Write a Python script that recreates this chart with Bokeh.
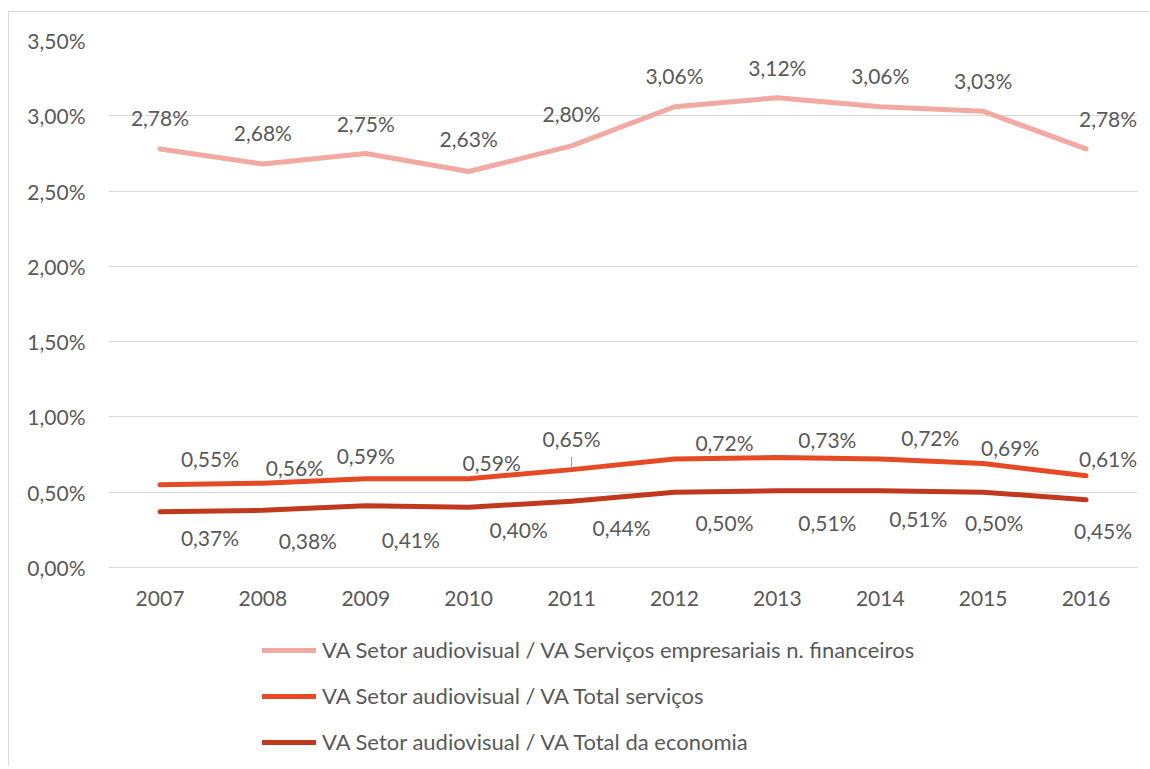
from bokeh.plotting import figure
from bokeh.models import ColumnDataSource, Range1d, FactorRange, FixedTicker, Legend, LegendItem
from bokeh.core.properties import value
from bokeh.embed import file_html
from bokeh.resources import INLINE

# ---- data ----
years = ["2007", "2008", "2009", "2010", "2011", "2012", "2013", "2014", "2015", "2016"]
serv_empresariais = [2.78, 2.68, 2.75, 2.63, 2.80, 3.06, 3.12, 3.06, 3.03, 2.78]
total_servicos = [0.55, 0.56, 0.59, 0.59, 0.65, 0.72, 0.73, 0.72, 0.69, 0.61]
total_economia = [0.37, 0.38, 0.41, 0.40, 0.44, 0.50, 0.51, 0.51, 0.50, 0.45]
series_names = [
    "VA Setor audiovisual / VA Serviços empresariais n. financeiros",
    "VA Setor audiovisual / VA Total serviços",
    "VA Setor audiovisual / VA Total da economia",
]
y_ticks = [0.0, 0.5, 1.0, 1.5, 2.0, 2.5, 3.0, 3.5]
y_tick_labels = ["0,00%", "0,50%", "1,00%", "1,50%", "2,00%", "2,50%", "3,00%", "3,50%"]
y_min, y_max = 0.0, 3.5

# ---- styles ----
colors = ["#F1A9A2", "#E64A24", "#C0391E"]
FONT = "Lato"
TXT = "#595959"
FS = "21px"
LFS = "22px"
# data-label offsets in screen pixels (dx, dy; negative dy = above)
off_dx = [
    [0, 0, 0, 0, 0, 0, 0, 0, 0, 22],
    [50, 32, 0, 23, 0, 50, 50, 50, 27, 22],
    [50, 45, 45, 50, 50, 50, 50, 38, 11, 17],
]
off_dy = [
    [-31, -31, -30, -33, -32, -31, -30, -31, -31, -30],
    [-26, -16, -23, -16, -31, -17, -18, -22, -16, -17],
    [26, 30, 34, 22, 26, 30, 32, 28, 30, 31],
]

# frame geometry: value axis spans 527px; frame extends 193px below zero
PX_PER_UNIT = 527 / (y_max - y_min)
below_units = 193 / PX_PER_UNIT


def fmt(v):
    return ("%.2f%%" % v).replace(".", ",")


p = figure(
    width=1141, height=755,
    x_range=FactorRange(*years, range_padding=0),
    y_range=Range1d(y_min - below_units, y_max),
    output_backend="svg", toolbar_location=None,
    min_border_left=99, min_border_right=13, min_border_top=28, min_border_bottom=7,
)
p.styles = {"border-left": "1px solid #d9d9d9", "border-top": "1px solid #d9d9d9",
            "margin-left": "8px", "margin-top": "11px"}
p.outline_line_color = None
p.xgrid.grid_line_color = None
p.ygrid.grid_line_color = "#d9d9d9"
p.ygrid.grid_line_width = 1
p.yaxis.ticker = FixedTicker(ticks=y_ticks)
p.yaxis.major_label_overrides = {t: l for t, l in zip(y_ticks, y_tick_labels)}
p.yaxis.axis_line_color = None
p.yaxis.major_tick_line_color = None
p.yaxis.minor_tick_line_color = None
p.yaxis.major_label_text_font = FONT
p.yaxis.major_label_text_font_size = FS
p.yaxis.major_label_text_color = TXT
p.yaxis.major_label_standoff = 17
p.xaxis.visible = False

# category labels under the zero line
p.text(x=years, y=[y_min] * len(years), text=years, y_offset=31,
       text_align="center", text_baseline="middle",
       text_font=value(FONT), text_font_size=FS, text_color=TXT)

all_series = [serv_empresariais, total_servicos, total_economia]
renderers = []
for i, vals in enumerate(all_series):
    r = p.line(years, vals, line_width=5, line_color=colors[i], line_cap="round", line_join="round")
    renderers.append(r)

# leader line for the 2011 label of the second series
p.segment(x0=[years[4]], y0=[total_servicos[4] + 0.012], x1=[years[4]], y1=[total_servicos[4] + 0.085],
          line_color="#a6a6a6", line_width=1.2)

for i, vals in enumerate(all_series):
    src = ColumnDataSource(dict(
        x=years, y=vals, t=[fmt(v) for v in vals], dx=off_dx[i], dy=off_dy[i]))
    p.text(x="x", y="y", text="t", x_offset="dx", y_offset="dy", source=src,
           text_align="center", text_baseline="middle",
           text_font=value(FONT), text_font_size=FS, text_color=TXT)

legend = Legend(
    items=[LegendItem(label=series_names[i], renderers=[renderers[i]]) for i in range(3)],
    orientation="vertical", location=(154, 5),
    border_line_color=None, background_fill_alpha=0,
    label_text_font=FONT, label_text_font_size=LFS, label_text_color=TXT,
    glyph_width=54, glyph_height=26, label_height=26, label_standoff=6, spacing=19,
    padding=0, margin=0,
)
p.add_layout(legend, "center")

open("out.html", "w").write(file_html(p, INLINE))
